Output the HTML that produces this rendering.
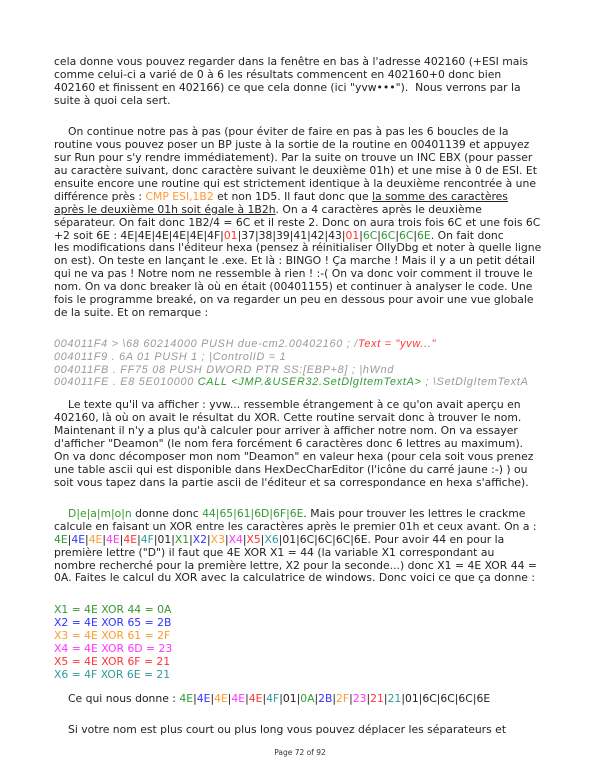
<!DOCTYPE html>
<html><head><meta charset="utf-8"><style>
html,body{margin:0;padding:0;background:#fff;}
body{width:600px;height:776px;position:relative;overflow:hidden;font-family:"DejaVu Sans","Liberation Sans",sans-serif;font-size:10.8px;color:#222;}
.l{position:absolute;left:54px;white-space:nowrap;height:14px;line-height:14px;}
.i{left:68px;}
.c{font-family:"Liberation Sans",sans-serif;font-style:italic;color:#999;font-size:10.8px;letter-spacing:0.75px;}
.g{color:#339933}.b{color:#3333ff}.o{color:#ff9933}.m{color:#ff33ff}.r{color:#ff3333}.t{color:#339999}
u{text-decoration:underline;}
.pg{position:absolute;left:0;width:600px;text-align:center;font-size:7.5px;top:748px;color:#333;}
</style></head><body>
<div class="l" style="top:55px">cela donne vous pouvez regarder dans la fenêtre en bas à l'adresse 402160 (+ESI mais</div>
<div class="l" style="top:68px">comme celui-ci a varié de 0 à 6 les résultats commencent en 402160+0 donc bien</div>
<div class="l" style="top:81px">402160 et finissent en 402166) ce que cela donne (ici "yvw•••").&nbsp; Nous verrons par la</div>
<div class="l" style="top:94px">suite à quoi cela sert.</div>

<div class="l i" style="top:125px">On continue notre pas à pas (pour éviter de faire en pas à pas les 6 boucles de la</div>
<div class="l" style="top:138px">routine vous pouvez poser un BP juste à la sortie de la routine en 00401139 et appuyez</div>
<div class="l" style="top:151px">sur Run pour s'y rendre immédiatement). Par la suite on trouve un INC EBX (pour passer</div>
<div class="l" style="top:164px">au caractère suivant, donc caractère suivant le deuxième 01h) et une mise à 0 de ESI. Et</div>
<div class="l" style="top:177px">ensuite encore une routine qui est strictement identique à la deuxième rencontrée à une</div>
<div class="l" style="top:190px">différence près : <span class="o">CMP ESI,1B2</span> et non 1D5. Il faut donc que <u>la somme des caractères </u></div>
<div class="l" style="top:203px"><u>après le deuxième 01h soit égale à 1B2h</u>. On a 4 caractères après le deuxième</div>
<div class="l" style="top:216px">séparateur. On fait donc 1B2/4 = 6C et il reste 2. Donc on aura trois fois 6C et une fois 6C</div>
<div class="l" style="top:229px">+2 soit 6E : 4E|4E|4E|4E|4E|4F|<span class="r">01</span>|37|38|39|41|42|43|<span class="r">01</span>|<span class="g">6C</span>|<span class="g">6C</span>|<span class="g">6C</span>|<span class="g">6E</span>. On fait donc</div>
<div class="l" style="top:241px">les modifications dans l'éditeur hexa (pensez à réinitialiser OllyDbg et noter à quelle ligne</div>
<div class="l" style="top:254px">on est). On teste en lançant le .exe. Et là : BINGO ! Ça marche ! Mais il y a un petit détail</div>
<div class="l" style="top:267px">qui ne va pas ! Notre nom ne ressemble à rien ! :-( On va donc voir comment il trouve le</div>
<div class="l" style="top:280px">nom. On va donc breaker là où en était (00401155) et continuer à analyser le code. Une</div>
<div class="l" style="top:293px">fois le programme breaké, on va regarder un peu en dessous pour avoir une vue globale</div>
<div class="l" style="top:306px">de la suite. Et on remarque :</div>

<div class="l c" style="top:337px">004011F4 &gt; \68 60214000 PUSH due-cm2.00402160 ; /<span class="r">Text = "yvw..."</span></div>
<div class="l c" style="top:350px">004011F9 . 6A 01 PUSH 1 ; |ControlID = 1</div>
<div class="l c" style="top:363px">004011FB . FF75 08 PUSH DWORD PTR SS:[EBP+8] ; |hWnd</div>
<div class="l c" style="top:375px">004011FE . E8 5E010000 <span class="g">CALL &lt;JMP.&amp;USER32.SetDlgItemTextA&gt;</span> ; \SetDlgItemTextA</div>

<div class="l i" style="top:398px">Le texte qu'il va afficher : yvw... ressemble étrangement à ce qu'on avait aperçu en</div>
<div class="l" style="top:411px">402160, là où on avait le résultat du XOR. Cette routine servait donc à trouver le nom.</div>
<div class="l" style="top:424px">Maintenant il n'y a plus qu'à calculer pour arriver à afficher notre nom. On va essayer</div>
<div class="l" style="top:437px">d'afficher "Deamon" (le nom fera forcément 6 caractères donc 6 lettres au maximum).</div>
<div class="l" style="top:450px">On va donc décomposer mon nom "Deamon" en valeur hexa (pour cela soit vous prenez</div>
<div class="l" style="top:463px">une table ascii qui est disponible dans HexDecCharEditor (l'icône du carré jaune :-) ) ou</div>
<div class="l" style="top:476px">soit vous tapez dans la partie ascii de l'éditeur et sa correspondance en hexa s'affiche).</div>

<div class="l i" style="top:507px"><span class="g">D|e|a|m|o|n</span> donne donc <span class="g">44|65|61|6D|6F|6E</span>. Mais pour trouver les lettres le crackme</div>
<div class="l" style="top:520px">calcule en faisant un XOR entre les caractères après le premier 01h et ceux avant. On a :</div>
<div class="l" style="top:533px"><span class="g">4E</span>|<span class="b">4E</span>|<span class="o">4E</span>|<span class="m">4E</span>|<span class="r">4E</span>|<span class="t">4F</span>|01|<span class="g">X1</span>|<span class="b">X2</span>|<span class="o">X3</span>|<span class="m">X4</span>|<span class="r">X5</span>|<span class="t">X6</span>|01|6C|6C|6C|6E. Pour avoir 44 en pour la</div>
<div class="l" style="top:546px">première lettre ("D") il faut que 4E XOR X1 = 44 (la variable X1 correspondant au</div>
<div class="l" style="top:559px">nombre recherché pour la première lettre, X2 pour la seconde...) donc X1 = 4E XOR 44 =</div>
<div class="l" style="top:571px">0A. Faites le calcul du XOR avec la calculatrice de windows. Donc voici ce que ça donne :</div>

<div class="l g" style="top:603px">X1 = 4E XOR 44 = 0A</div>
<div class="l b" style="top:616px">X2 = 4E XOR 65 = 2B</div>
<div class="l o" style="top:629px">X3 = 4E XOR 61 = 2F</div>
<div class="l m" style="top:642px">X4 = 4E XOR 6D = 23</div>
<div class="l r" style="top:655px">X5 = 4E XOR 6F = 21</div>
<div class="l t" style="top:668px">X6 = 4F XOR 6E = 21</div>

<div class="l i" style="top:692px">Ce qui nous donne : <span class="g">4E</span>|<span class="b">4E</span>|<span class="o">4E</span>|<span class="m">4E</span>|<span class="r">4E</span>|<span class="t">4F</span>|01|<span class="g">0A</span>|<span class="b">2B</span>|<span class="o">2F</span>|<span class="m">23</span>|<span class="r">21</span>|<span class="t">21</span>|01|6C|6C|6C|6E</div>

<div class="l i" style="top:723px">Si votre nom est plus court ou plus long vous pouvez déplacer les séparateurs et</div>

<div class="pg">Page 72 of 92</div>
</body></html>
